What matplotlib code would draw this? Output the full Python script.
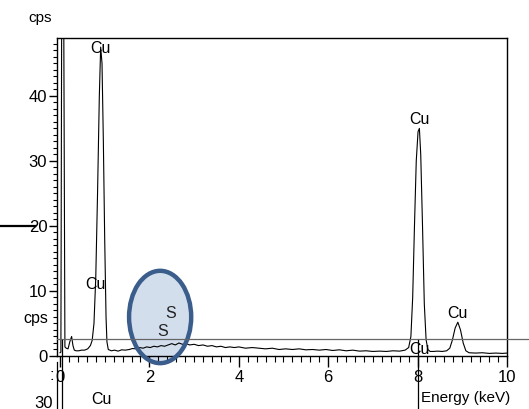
import matplotlib
matplotlib.use('Agg')
import matplotlib.pyplot as plt
from matplotlib.patches import Ellipse
from matplotlib.lines import Line2D
from matplotlib.ticker import MultipleLocator

plt.rcParams['font.family'] = ['Liberation Sans', 'DejaVu Sans']

# spectrum (energy in keV, counts per second)
energy = [0.00, 0.02, 0.04, 0.08, 0.11, 0.14, 0.18, 0.22, 0.26, 0.29, 0.32, 0.36,
          0.42, 0.48, 0.55, 0.62, 0.68, 0.72, 0.76, 0.80, 0.84, 0.88, 0.91, 0.94,
          0.97, 1.00, 1.03, 1.05, 1.08, 1.15, 1.22, 1.30, 1.38, 1.46, 1.55, 1.62,
          1.70, 1.78, 1.86, 1.94, 2.02, 2.10, 2.18, 2.26, 2.34, 2.42, 2.50, 2.58,
          2.66, 2.74, 2.82, 2.90, 3.00, 3.10, 3.20, 3.30, 3.40, 3.50, 3.60, 3.70,
          3.80, 3.90, 4.00, 4.15, 4.30, 4.45, 4.60, 4.75, 4.90, 5.05, 5.20, 5.35,
          5.50, 5.65, 5.80, 5.95, 6.10, 6.25, 6.40, 6.55, 6.70, 6.85, 7.00, 7.15,
          7.30, 7.45, 7.60, 7.72, 7.80, 7.85, 7.89, 7.93, 7.97, 8.01, 8.04, 8.07,
          8.11, 8.15, 8.19, 8.23, 8.28, 8.35, 8.45, 8.55, 8.65, 8.72, 8.78, 8.84,
          8.90, 8.96, 9.02, 9.08, 9.15, 9.30, 9.45, 9.60, 9.75, 9.90, 10.00]
cps = [0.5, 0.6, 60.0, 60.0, 1.4, 1.2, 1.1, 2.2, 3.0, 1.6, 0.9, 0.8,
       0.8, 0.9, 0.9, 1.1, 1.6, 2.4, 5.0, 12.0, 25.0, 40.0, 47.5, 45.0,
       33.0, 18.0, 6.0, 2.2, 1.0, 0.8, 0.9, 0.75, 0.95, 0.9, 1.0, 1.15,
       1.1, 1.3, 1.2, 1.4, 1.3, 1.5, 1.4, 1.6, 1.5, 1.7, 1.9, 1.7,
       2.0, 1.8, 1.9, 1.7, 1.8, 1.6, 1.7, 1.5, 1.6, 1.4, 1.5, 1.3,
       1.4, 1.3, 1.4, 1.2, 1.3, 1.2, 1.1, 1.2, 1.0, 1.1, 1.0, 1.1,
       0.95, 1.0, 0.9, 1.0, 0.85, 0.95, 0.8, 0.9, 0.75, 0.8, 0.7, 0.75,
       0.7, 0.8, 0.75, 0.9, 1.3, 3.0, 9.0, 20.0, 30.0, 34.5, 35.0, 31.0,
       20.0, 8.0, 2.5, 1.0, 0.7, 0.7, 0.75, 0.7, 0.8, 1.2, 2.5, 4.3,
       5.2, 4.0, 2.0, 0.8, 0.5, 0.45, 0.5, 0.4, 0.45, 0.4, 0.45]

# peak labels
label_text = ['Cu', 'Cu', 'Cu', 'Cu', 'Cu', 'S', 'S']
label_x = [0.90, 0.80, 8.05, 8.90, 8.05, 2.48, 2.30]
label_y = [47.3, 11.0, 36.3, 6.6, 1.0, 6.6, 3.7]

W, H = 529, 409
fig = plt.figure(figsize=(W / 100, H / 100), dpi=100)
ax = fig.add_axes([57 / W, 1 - 356 / H, (507 - 57) / W, (356 - 38) / H])

ax.plot(energy, cps, color='black', lw=0.8, zorder=3)
ax.set_xlim(-0.067, 10)
ax.set_ylim(0, 48.9)

ax.xaxis.set_major_locator(MultipleLocator(2))
ax.xaxis.set_minor_locator(MultipleLocator(0.2))
ax.yaxis.set_major_locator(MultipleLocator(10))
ax.yaxis.set_minor_locator(MultipleLocator(1))
ax.tick_params(axis='x', which='major', length=8, width=1, labelsize=12, pad=2)
ax.tick_params(axis='x', which='minor', length=4, width=0.8)
ax.tick_params(axis='y', which='major', length=6, width=1, labelsize=12, pad=1)
ax.tick_params(axis='y', which='minor', length=3, width=0.8)
for s in ax.spines.values():
    s.set_linewidth(1)

for t, x, y in zip(label_text, label_x, label_y):
    col = '#222222' if t == 'S' else 'black'
    ax.text(x, y, t, ha='center', va='center', fontsize=11.5, color=col, zorder=6)

# highlighted sulfur region
ax.add_patch(Ellipse((2.24, 6.0), 1.39, 14.2, facecolor='#d3deed', edgecolor='none',
                     zorder=1, clip_on=False))
ax.add_patch(Ellipse((2.24, 6.0), 1.39, 14.2, facecolor='none', edgecolor='#3a5d8c',
                     lw=3.2, zorder=5, clip_on=False))

# leftovers of the overlaid panel around the chart
fig.add_artist(Line2D([57 / W, 1], [1 - 339 / H] * 2, color='#666666', lw=0.9))
fig.add_artist(Line2D([0, 35 / W], [1 - 226 / H] * 2, color='black', lw=1.6))
fig.add_artist(Line2D([57 / W] * 2, [0, 1 - 362 / H], color='black', lw=0.9))
fig.add_artist(Line2D([62 / W] * 2, [0, 1 - 340 / H], color='black', lw=0.9))
fig.add_artist(Line2D([418 / W] * 2, [0, 1 - 340 / H], color='black', lw=0.9))
fig.text(40 / W, 1 - 18 / H, 'cps', ha='center', va='center', fontsize=11)
fig.text(36 / W, 1 - 318 / H, 'cps', ha='center', va='center', fontsize=11.5)
fig.text(52 / W, 1 - 376 / H, ':', ha='center', va='center', fontsize=12)
fig.text(44 / W, 1 - 403 / H, '30', ha='center', va='center', fontsize=12)
fig.text(101 / W, 1 - 400 / H, 'Cu', ha='center', va='center', fontsize=11.5)
fig.text(421 / W, 1 - 398 / H, 'Energy (keV)', ha='left', va='center', fontsize=11)

fig.savefig('out.png', dpi=100)
